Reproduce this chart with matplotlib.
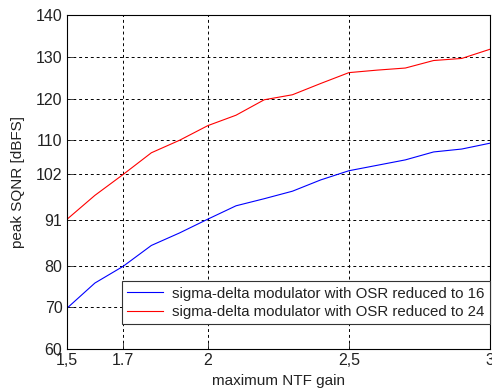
import numpy as np
import matplotlib
matplotlib.use("Agg")
import matplotlib.pyplot as plt

plt.rcParams['font.family'] = ['Liberation Sans', 'DejaVu Sans']
plt.rcParams['font.size'] = 11

# data
ntf_gain = [1.5, 1.6, 1.7, 1.8, 1.9, 2.0, 2.1, 2.2, 2.3, 2.4, 2.5, 2.6, 2.7, 2.8, 2.9, 3.0]
sqnr_osr16 = [69.7, 75.8, 79.8, 84.8, 87.8, 91.1, 94.3, 96.0, 97.8, 100.5,
              102.7, 104.0, 105.3, 107.2, 107.9, 109.3]
sqnr_osr24 = [91.0, 96.8, 101.8, 107.0, 110.0, 113.5, 116.0, 119.7, 120.9, 123.6,
              126.2, 126.8, 127.3, 129.1, 129.6, 131.8]

xticks = [1.5, 1.7, 2.0, 2.5, 3.0]
xtick_labels = ["1,5", "1.7", "2", "2,5", "3"]
yticks = [60, 70, 80, 91, 102, 110, 120, 130, 140]
labels = ["sigma-delta modulator with OSR reduced to 16",
          "sigma-delta modulator with OSR reduced to 24"]

fig = plt.figure(figsize=(4.92, 3.92), dpi=100)
ax = fig.add_axes([0.1355, 0.1097, 0.8605, 0.852])

ax.plot(ntf_gain, sqnr_osr16, color='#0000ff', lw=0.8, label=labels[0])
ax.plot(ntf_gain, sqnr_osr24, color='#ff0000', lw=0.8, label=labels[1])

ax.set_xlim(1.5, 3.0)
ax.set_ylim(60, 140)
ax.set_xticks(xticks)
ax.set_xticklabels(xtick_labels)
ax.set_yticks(yticks)
ax.tick_params(direction='in', length=4, width=0.6, colors='#222222', labelsize=11.5)
ax.tick_params(axis='x', pad=3)
ax.tick_params(axis='y', pad=3)
ax.grid(True, color='black', linestyle=(0, (3, 3)), lw=0.7)
for s in ax.spines.values():
    s.set_linewidth(0.8)
    s.set_color('black')

ax.set_xlabel("maximum NTF gain", color='#222222', labelpad=4)
ax.set_ylabel("peak SQNR [dBFS]", color='#222222', labelpad=8)

leg = ax.legend(loc='lower right', bbox_to_anchor=(1.0, 0.074), borderaxespad=0,
                fancybox=False, framealpha=1, edgecolor='#333333', fontsize=10.8,
                handlelength=2.4, handletextpad=0.6, labelspacing=0.3, borderpad=0.35)
leg.get_frame().set_linewidth(0.8)
for t in leg.get_texts():
    t.set_color('#222222')

fig.savefig("out.png", dpi=100)
